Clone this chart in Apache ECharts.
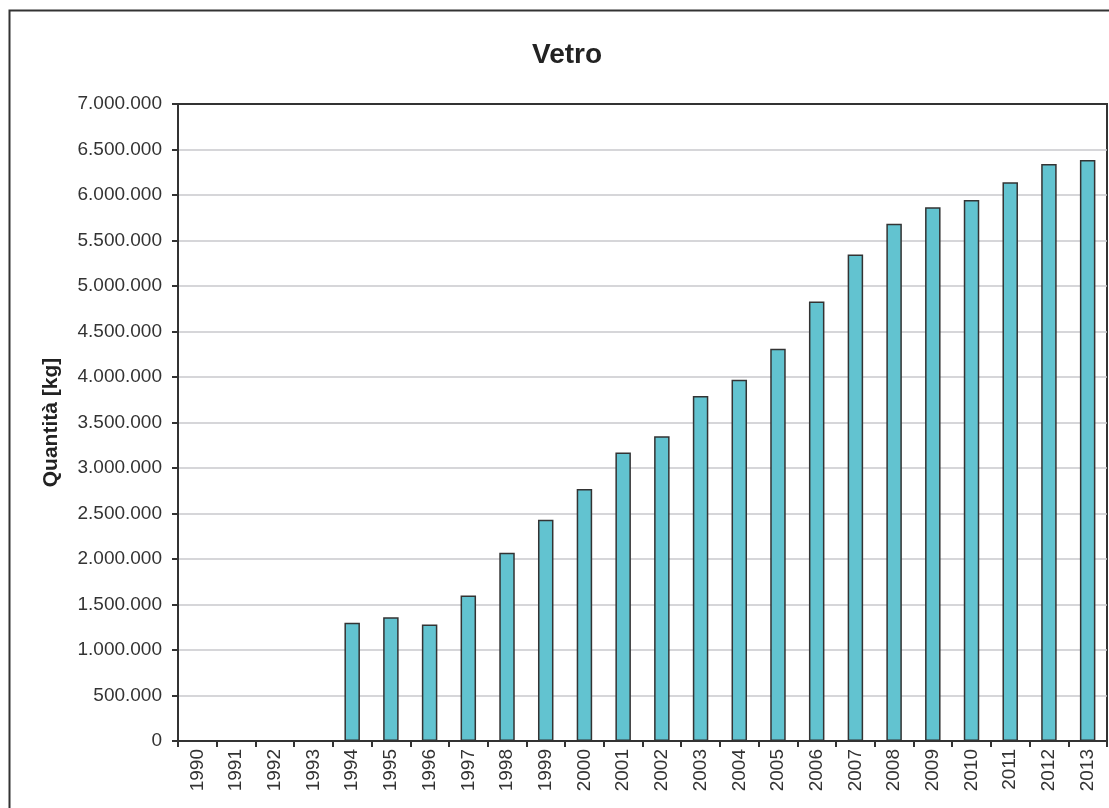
<!DOCTYPE html>
<html>
<head>
<meta charset="utf-8">
<title>Vetro</title>
<script src="https://cdn.jsdelivr.net/npm/echarts@6/dist/echarts.min.js"></script>
<style>
    html, body { margin: 0; padding: 0; background: #fff; }
    #chart { width: 1109px; height: 808px; }
</style>
</head>
<body>
<div id="chart"></div>
<script>
// anni
var years = ['1990', '1991', '1992', '1993', '1994', '1995', '1996', '1997', '1998', '1999', '2000', '2001',
    '2002', '2003', '2004', '2005', '2006', '2007', '2008', '2009', '2010', '2011', '2012', '2013'];
// quantità vetro [kg], 1990-1993 senza dati
var quantita = [null, null, null, null, 1300000, 1360000, 1280000, 1600000, 2070000, 2430000, 2770000, 3170000,
    3350000, 3790000, 3970000, 4310000, 4830000, 5345000, 5685000, 5865000, 5945000, 6140000, 6340000, 6385000];
var yMin = 0, yMax = 7000000, yStep = 500000;

function fmtNum(v) {
    return String(v).replace(/\B(?=(\d{3})+(?!\d))/g, '.');
}

var chart = echarts.init(document.getElementById('chart'));

var option = {
    backgroundColor: '#ffffff',
    animation: false,
    title: {
        text: 'Vetro',
        left: 527,
        top: 36,
        textStyle: {
            fontFamily: 'Liberation Sans, Arial, sans-serif',
            fontWeight: 'bold',
            fontSize: 28,
            color: '#222'
        }
    },
    graphic: [{
        type: 'rect',
        shape: { x: 9.5, y: 10.5, width: 1120, height: 820 },
        style: { fill: 'none', stroke: '#333', lineWidth: 2 },
        silent: true
    }],
    grid: {
        show: true,
        left: 178,
        top: 104,
        width: 929,
        height: 637,
        borderColor: '#333',
        borderWidth: 2,
        backgroundColor: 'transparent'
    },
    xAxis: {
        type: 'category',
        data: years,
        axisLine: { show: true, lineStyle: { color: '#333', width: 2 } },
        axisTick: { show: true, alignWithLabel: false, length: 6, lineStyle: { color: '#333', width: 2 } },
        axisLabel: {
            interval: 0,
            rotate: 90,
            margin: 8,
            fontFamily: 'Liberation Sans, Arial, sans-serif',
            fontSize: 19,
            color: '#333'
        },
        splitLine: { show: false }
    },
    yAxis: {
        type: 'value',
        min: yMin,
        max: yMax,
        interval: yStep,
        name: 'Quantità [kg]',
        nameLocation: 'middle',
        nameGap: 116,
        nameTextStyle: {
            fontFamily: 'Liberation Sans, Arial, sans-serif',
            fontWeight: 'bold',
            fontSize: 21,
            color: '#222'
        },
        axisLine: { show: true, lineStyle: { color: '#333', width: 2 } },
        axisTick: { show: true, length: 6, lineStyle: { color: '#333', width: 2 } },
        axisLabel: {
            margin: 16,
            fontFamily: 'Liberation Sans, Arial, sans-serif',
            fontSize: 19,
            color: '#333',
            formatter: function (v) { return fmtNum(v); }
        },
        splitLine: { show: true, showMaxLine: false, showMinLine: false, lineStyle: { color: '#c8c8cc', width: 1.5 } }
    },
    series: [{
        name: 'Vetro',
        type: 'bar',
        data: quantita,
        barWidth: '40%',
        itemStyle: {
            color: '#62c3d0',
            borderColor: '#333',
            borderWidth: 1.5
        }
    }]
};

chart.setOption(option);
</script>
</body>
</html>
